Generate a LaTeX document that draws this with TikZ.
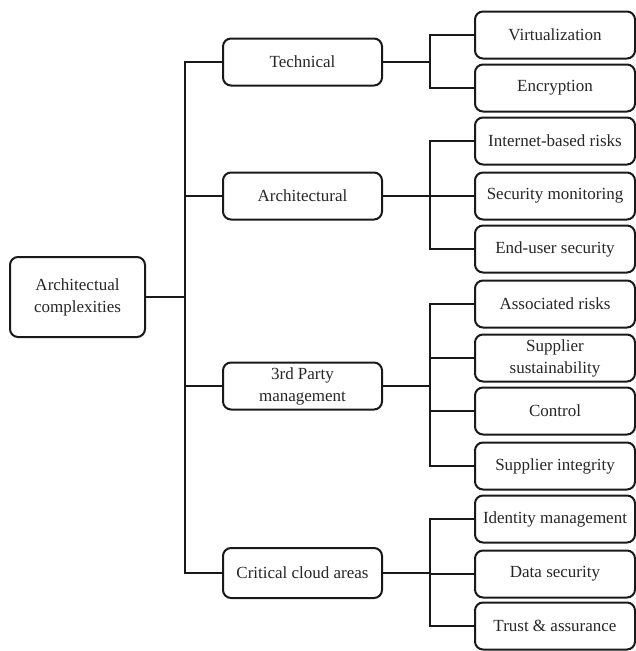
\documentclass[tikz,border=0pt]{standalone}
\usepackage{fontspec}
\setmainfont{Liberation Serif}
\begin{document}
\begin{tikzpicture}[x=1pt,y=-1pt,
  box/.style={draw=black!90, line width=2pt, rounded corners=8pt, align=center,
    font=\fontsize{17}{22}\selectfont, text=black!85, inner sep=0pt},
  leaf/.style={box, minimum width=160pt, minimum height=47pt},
  mid/.style={box, minimum width=159pt, minimum height=47pt},
  conn/.style={draw=black!90, line width=1.5pt}]
\useasboundingbox (0,0) rectangle (636,651);
\node[box, minimum width=135pt, minimum height=80pt] (root) at (77.5,297) {Architectual\\complexities};
\node[mid] (tech) at (302.5,62) {Technical};
\node[mid] (arch) at (302.5,196) {Architectural};
\node[mid] (third) at (302.5,386) {3rd Party\\management};
\node[mid, minimum height=50pt] (crit) at (302.5,573) {Critical cloud areas};
\node[leaf] (virt) at (555,35) {Virtualization};
\node[leaf] (enc) at (555,88) {Encryption};
\node[leaf] (inet) at (555,141) {Internet-based risks};
\node[leaf] (secm) at (555,196) {Security monitoring};
\node[leaf] (endu) at (555,249) {End-user security};
\node[leaf] (assoc) at (555,304) {Associated risks};
\node[leaf] (sust) at (555,358) {Supplier\\sustainability};
\node[leaf] (ctrl) at (555,411) {Control};
\node[leaf] (integ) at (555,466) {Supplier integrity};
\node[leaf] (ident) at (555,519) {Identity management};
\node[leaf] (datas) at (555,574) {Data security};
\node[leaf] (trust) at (555,626) {Trust \& assurance};
\coordinate (j0) at (185,297);
\coordinate (j1) at (430,62);
\coordinate (j2) at (430,196);
\coordinate (j3) at (430,386);
\coordinate (j4) at (430,573);
\draw[conn] (root.east) -- (j0);
\draw[conn] (j0) |- (tech.west);
\draw[conn] (j0) |- (arch.west);
\draw[conn] (j0) |- (third.west);
\draw[conn] (j0) |- (crit.west);
\draw[conn] (tech.east) -- (j1);
\draw[conn] (j1) |- (virt.west);
\draw[conn] (j1) |- (enc.west);
\draw[conn] (arch.east) -- (j2);
\draw[conn] (j2) |- (inet.west);
\draw[conn] (j2) |- (secm.west);
\draw[conn] (j2) |- (endu.west);
\draw[conn] (third.east) -- (j3);
\draw[conn] (j3) |- (assoc.west);
\draw[conn] (j3) |- (sust.west);
\draw[conn] (j3) |- (ctrl.west);
\draw[conn] (j3) |- (integ.west);
\draw[conn] (crit.east) -- (j4);
\draw[conn] (j4) |- (ident.west);
\draw[conn] (j4) |- (datas.west);
\draw[conn] (j4) |- (trust.west);
\end{tikzpicture}
\end{document}
